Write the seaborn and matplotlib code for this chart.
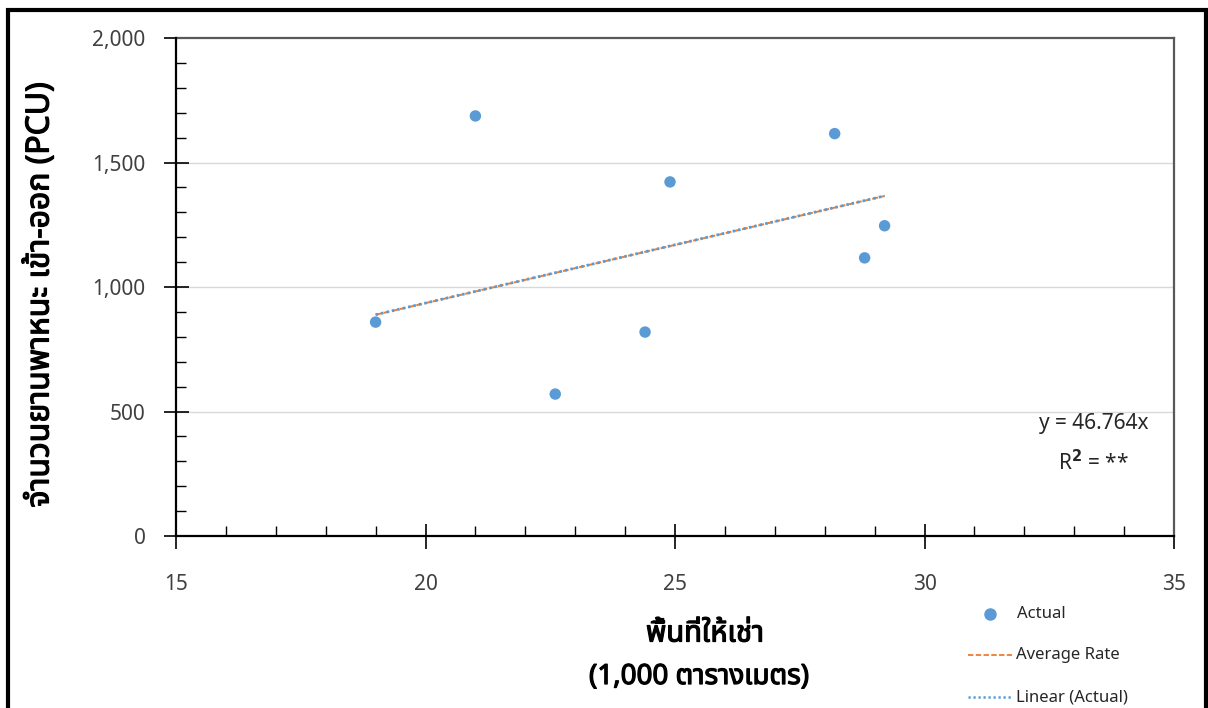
import numpy as np
import pandas as pd
import matplotlib
matplotlib.use("Agg")
import matplotlib.pyplot as plt
import matplotlib.patheffects as pe
from matplotlib import font_manager
from matplotlib.ft2font import FT2Font
from matplotlib.ticker import MultipleLocator, FuncFormatter
from matplotlib.patches import Rectangle
import seaborn as sns

# ---------------- data ----------------
area_k_sqm = [19.0, 21.0, 22.6, 24.4, 24.9, 28.2, 28.8, 29.2]
vehicles_pcu = [859, 1687, 570, 819, 1422, 1616, 1117, 1246]
average_rate_slope = 46.764
x_label_line1 = "พื้นที่ให้เช่า"
x_label_line2 = "(1,000 ตารางเมตร)"
y_label = "จำนวนยานพาหนะ เข้า-ออก (PCU)"
legend_labels = ["Actual", "Average Rate", "Linear (Actual)"]
equation_text = "y = 46.764x"

# ---------------- fonts ----------------
def find_thai_family():
    seen = {}
    for f in font_manager.fontManager.ttflist:
        if f.name in seen:
            continue
        try:
            cmap = FT2Font(f.fname).get_charmap()
            if 0x0E08 in cmap and 0x0E19 in cmap:
                seen[f.name] = True
        except Exception:
            continue
    if not seen:
        return None
    prefs = ["Noto Sans Thai", "Noto Sans Thai UI", "Loma", "Garuda", "Sarabun",
             "TH Sarabun New", "Norasi", "Kinnari", "Tlwg Typo"]
    for p in prefs:
        if p in seen:
            return p
    return sorted(seen)[0]

sns.set_theme(style="white")
thai = find_thai_family()
fams = ([thai] if thai else []) + ["Lato", "DejaVu Sans"]
plt.rcParams["font.family"] = fams

df = pd.DataFrame({"x": area_k_sqm, "y": vehicles_pcu})
xs = np.array(area_k_sqm)
ys = np.array(vehicles_pcu)
x_line = np.array([xs.min(), xs.max()])
avg_df = pd.DataFrame({"x": x_line, "y": average_rate_slope * x_line})
lin_slope = float((xs * ys).sum() / (xs * xs).sum())
lin_df = pd.DataFrame({"x": x_line, "y": lin_slope * x_line})

fig = plt.figure(figsize=(12.08, 7.08), dpi=100)
ax = fig.add_axes([176 / 1208, 1 - 536 / 708, (1174 - 176) / 1208, (536 - 38) / 708])

blue = "#5B9BD5"
orange = "#ED7D31"
bold_fx = [pe.withStroke(linewidth=0.9, foreground="black")]

for v in [500, 1000, 1500]:
    ax.axhline(v, color="#D9D9D9", lw=1, zorder=0)

sns.scatterplot(data=df, x="x", y="y", ax=ax, color=blue, s=68, edgecolor="none",
                zorder=3, legend=False)
sns.lineplot(data=avg_df, x="x", y="y", ax=ax, color=orange, lw=1.4,
             linestyle=(0, (3, 1.3)), zorder=2)
sns.lineplot(data=lin_df, x="x", y="y", ax=ax, color=blue, lw=2.0,
             linestyle=(0, (0.9, 1.1)), zorder=2)

ax.set_xlim(15, 35)
ax.set_ylim(0, 2000)
ax.xaxis.set_major_locator(MultipleLocator(5))
ax.xaxis.set_minor_locator(MultipleLocator(1))
ax.yaxis.set_major_locator(MultipleLocator(500))
ax.yaxis.set_minor_locator(MultipleLocator(100))
ax.yaxis.set_major_formatter(FuncFormatter(lambda v, p: f"{int(v):,}"))

ax.tick_params(axis="x", which="major", direction="inout", length=18, width=1.2,
               color="black", labelsize=15, labelcolor="#404040", pad=18, bottom=True)
ax.tick_params(axis="x", which="minor", direction="in", length=7, width=1.0,
               color="black", bottom=True)
ax.tick_params(axis="y", which="major", direction="inout", length=18, width=1.2,
               color="black", labelsize=15, labelcolor="#404040", pad=13, left=True)
ax.tick_params(axis="y", which="minor", direction="in", length=7, width=1.0,
               color="black", left=True)

for side in ["left", "bottom"]:
    ax.spines[side].set_color("black")
    ax.spines[side].set_linewidth(1.6)
for side in ["top", "right"]:
    ax.spines[side].set_color("#595959")
    ax.spines[side].set_linewidth(1.6)
ax.spines["left"].set_zorder(4)
ax.spines["bottom"].set_zorder(4)

ax.set_xlabel("")
ax.set_ylabel("")

fig.text(705 / 1208, 1 - 634 / 708, x_label_line1, ha="center", va="center",
         fontsize=21, color="black", path_effects=bold_fx)
fig.text(699 / 1208, 1 - 677 / 708, x_label_line2, ha="center", va="center",
         fontsize=20, color="black", path_effects=bold_fx)
fig.text(40 / 1208, 1 - 295 / 708, y_label, ha="center", va="center",
         rotation=90, fontsize=23, color="black", path_effects=bold_fx)

ax.text(1094 / 1208, 1 - 423 / 708, equation_text, transform=fig.transFigure,
        ha="center", va="center", fontsize=15, color="#262626")
ax.text(1093 / 1208, 1 - 463 / 708, "R$^{\\mathbf{2}}$ = **", transform=fig.transFigure,
        ha="center", va="center", fontsize=15, color="#262626")

# legend drawn manually in figure coordinates
lx0, lx1 = 968 / 1208, 1012 / 1208
fig.lines.append(plt.Line2D([990 / 1208], [1 - 614 / 708], marker="o", ms=8,
                            color=blue, lw=0, transform=fig.transFigure))
fig.lines.append(plt.Line2D([lx0, lx1], [1 - 655 / 708] * 2, color=orange, lw=1.3,
                            linestyle=(0, (3, 1.3)), transform=fig.transFigure))
fig.lines.append(plt.Line2D([lx0, lx1], [1 - 697 / 708] * 2, color=blue, lw=1.8,
                            linestyle=(0, (0.9, 1.1)), transform=fig.transFigure))
fig.text(1017 / 1208, 1 - 614 / 708, legend_labels[0], va="center", fontsize=12, color="#262626")
fig.text(1016 / 1208, 1 - 655 / 708, legend_labels[1], va="center", fontsize=12, color="#262626")
fig.text(1016 / 1208, 1 - 697 / 708, legend_labels[2], va="center", fontsize=12, color="#262626")

# outer frame (bottom edge lies outside the image)
fig.patches.append(Rectangle((8 / 1208, -0.05), (1206 - 8) / 1208, 1.05 - 10 / 708,
                             transform=fig.transFigure, fill=False,
                             edgecolor="black", lw=3))

fig.savefig("out.png", dpi=100)
